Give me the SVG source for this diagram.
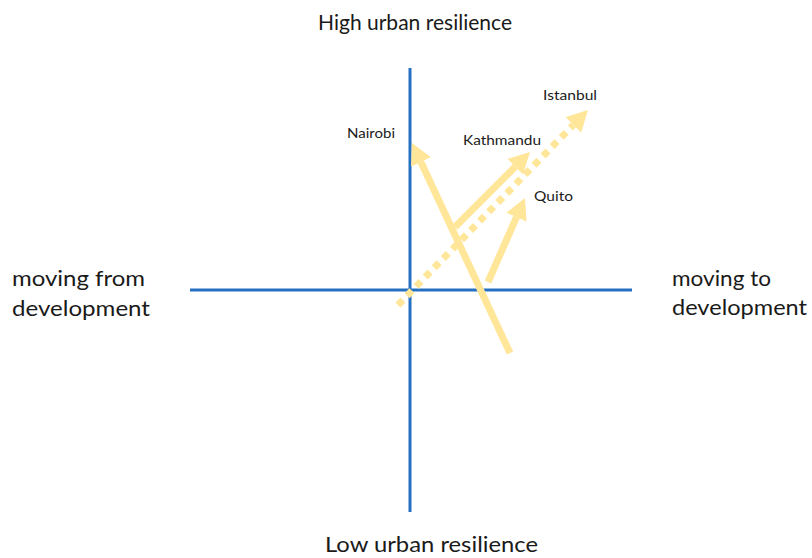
<svg xmlns="http://www.w3.org/2000/svg" width="812" height="558" viewBox="0 0 812 558">
<defs>
<style>
.axis{stroke:#2670C4;stroke-width:3;fill:none}
.arr{stroke:#FFE699;stroke-width:7;fill:none}
.dot{stroke:#FFE699;stroke-width:7;fill:none;stroke-dasharray:7 6}
.big{font-family:Lato,"Liberation Sans",sans-serif;font-size:22px;fill:#1a1a1a}
.city{font-family:Lato,"Liberation Sans",sans-serif;font-size:14px;fill:#1a1a1a}
</style>
<marker id="head" markerUnits="userSpaceOnUse" markerWidth="24" markerHeight="26" viewBox="0 -13 24 26" refX="0" refY="0" orient="auto">
<path d="M0,-11 L21,0 L0,11 z" fill="#FFE699"/>
</marker>
</defs>
<rect width="812" height="558" fill="#ffffff"/>
<g id="axes">
<line class="axis" x1="410" y1="68" x2="410" y2="512"/>
<line class="axis" x1="190" y1="290" x2="632" y2="290"/>
</g>
<g id="connectors">
<line id="istanbul-arrow" class="dot" x1="398" y1="305" x2="573.3" y2="125" marker-end="url(#head)"/>
<line id="nairobi-arrow" class="arr" x1="510" y1="353" x2="420.9" y2="162" marker-end="url(#head)"/>
<line id="kathmandu-arrow" class="arr" x1="455" y1="227" x2="515.2" y2="166.8" marker-end="url(#head)"/>
<line id="quito-arrow" class="arr" x1="488" y1="282" x2="516.5" y2="217.2" marker-end="url(#head)"/>
</g>
<g id="high"><text class="big" x="318" y="30" textLength="194" lengthAdjust="spacingAndGlyphs">High urban resilience</text></g>
<g id="low"><text class="big" x="325" y="552" textLength="213" lengthAdjust="spacingAndGlyphs">Low urban resilience</text></g>
<g id="from"><text class="big" x="12" y="286" textLength="133" lengthAdjust="spacingAndGlyphs">moving from</text><text class="big" x="12" y="316" textLength="138" lengthAdjust="spacingAndGlyphs">development</text></g>
<g id="to"><text class="big" x="672" y="286" textLength="99" lengthAdjust="spacingAndGlyphs">moving to</text><text class="big" x="672" y="315" textLength="135" lengthAdjust="spacingAndGlyphs">development</text></g>
<g id="nairobi"><text class="city" x="347" y="138" textLength="48" lengthAdjust="spacingAndGlyphs">Nairobi</text></g>
<g id="kathmandu"><text class="city" x="463" y="145" textLength="78" lengthAdjust="spacingAndGlyphs">Kathmandu</text></g>
<g id="istanbul"><text class="city" x="543" y="100" textLength="54" lengthAdjust="spacingAndGlyphs">Istanbul</text></g>
<g id="quito"><text class="city" x="534" y="201" textLength="39" lengthAdjust="spacingAndGlyphs">Quito</text></g>
</svg>
